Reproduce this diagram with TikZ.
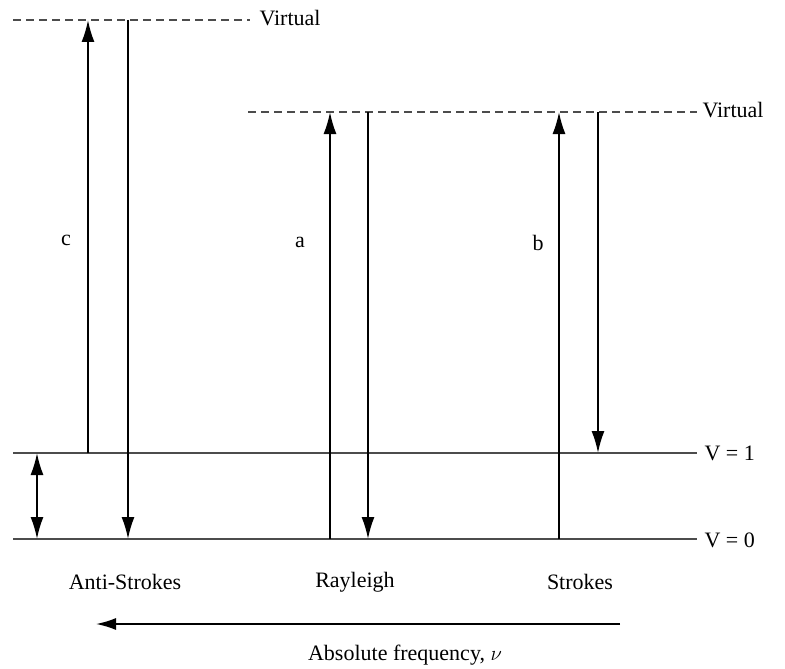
\documentclass[tikz,border=0pt]{standalone}
\usepackage{fontspec}
\setmainfont{Liberation Serif}
\usetikzlibrary{arrows.meta}
\tikzset{
    level/.style={line width=1.6pt, gray!60!black},
    virt/.style={line width=1.6pt, dash pattern=on 8pt off 5pt, gray!60!black},
    tip/.style={Latex[length=22pt,width=13pt]},
    trans/.style={line width=1.8pt, -{Latex[length=22pt,width=13pt]}},
    lbl/.style={font=\fontsize{22}{26}\selectfont}
}
\begin{document}
\begin{tikzpicture}[x=1pt,y=-1pt]
    \useasboundingbox (0,0) rectangle (785,669);

    % levels
    \draw[virt] (13,20) -- (250,20);
    \draw[virt] (248,112) -- (697,112);
    \draw[level] (13,453) -- (697,453);
    \draw[level] (13,539) -- (697,539);

    \node[lbl, anchor=west] (virttop) at (256,18) {Virtual};
    \node[lbl, anchor=west] (virtmid) at (699,110) {Virtual};
    \node[lbl, anchor=west] (vone) at (701,453) {V = 1};
    \node[lbl, anchor=west] (vzero) at (701,540) {V = 0};

    % anti-strokes
    \draw[trans] (88,453) -- (88,20);
    \draw[trans] (128,20) -- (128,539);
    \draw[line width=1.8pt, {Latex[length=22pt,width=13pt]}-{Latex[length=22pt,width=13pt]}] (37,453) -- (37,539);
    \node[lbl] (c) at (66,240) {c};

    % rayleigh
    \draw[trans] (330,539) -- (330,112);
    \draw[trans] (368,112) -- (368,539);
    \node[lbl] (a) at (300,242) {a};

    % strokes
    \draw[trans] (559,539) -- (559,112);
    \draw[trans] (598,112) -- (598,453);
    \node[lbl] (b) at (538,243) {b};

    \node[lbl] (anti) at (125,582) {Anti-Strokes};
    \node[lbl] (rayl) at (355,582) {Rayleigh};
    \node[lbl] (strk) at (580,582) {Strokes};

    \draw[line width=1.8pt, -{Latex[length=20pt,width=12pt]}] (620,624) -- (96,624);
    \node[lbl] (freq) at (405,655) {Absolute frequency, $\nu$};
\end{tikzpicture}
\end{document}
